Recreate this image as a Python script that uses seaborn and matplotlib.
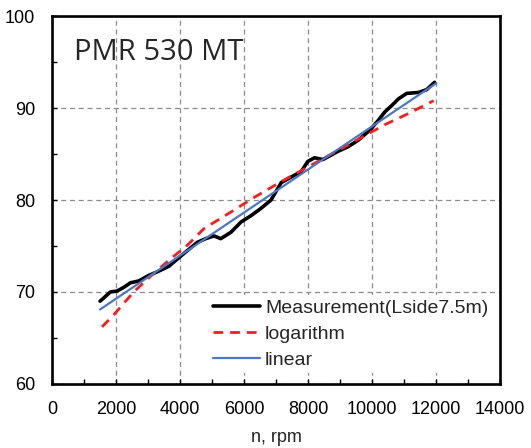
import numpy as np
import pandas as pd
import matplotlib
matplotlib.use("Agg")
import matplotlib.pyplot as plt
import seaborn as sns
from matplotlib.ticker import MultipleLocator

meas_rpm = [1500, 1600, 1820, 2030, 2240, 2450, 2710, 3020, 3290, 3650,
            4020, 4330, 4540, 4800, 5060, 5270, 5590, 5900, 6215, 6530,
            6840, 7160, 7470, 7785, 7990, 8200, 8460, 8670, 8935, 9250,
            9560, 9930, 10200, 10400, 10620, 10820, 11080, 11450, 11700, 11950]
meas_db = [69.0, 69.3, 70.0, 70.1, 70.5, 71.0, 71.2, 71.8, 72.2, 72.8,
           73.9, 74.8, 75.4, 75.8, 76.1, 75.8, 76.5, 77.6, 78.3, 79.1,
           80.0, 81.9, 82.5, 83.1, 84.2, 84.6, 84.4, 84.8, 85.3, 85.8,
           86.5, 87.6, 88.7, 89.6, 90.3, 91.0, 91.6, 91.7, 92.0, 92.8]

# logarithmic fit
log_rpm = [1560, 1925, 2550, 3075, 3600, 4230, 4750, 5590, 6320, 7160,
           7575, 8100, 8620, 9250, 10400, 11130, 11920]
log_db = [66.2, 67.5, 70.0, 71.7, 73.3, 75.1, 76.9, 78.7, 80.3, 82.0,
          82.8, 83.8, 84.8, 86.0, 88.2, 89.4, 90.8]

# linear fit
lin_rpm = [1500, 12000]
lin_db = [68.1, 92.7]

sns.set_style("white")
plt.rcParams["font.family"] = ["Liberation Sans", "DejaVu Sans"]

fig = plt.figure(figsize=(5.31, 4.48), dpi=100)
ax = fig.add_axes([0.098, 0.143, 0.844, 0.821])

sns.lineplot(x=meas_rpm, y=meas_db, ax=ax, color="black", linewidth=2.6,
             label="Measurement(Lside7.5m)", sort=False, zorder=3)
sns.lineplot(x=log_rpm, y=log_db, ax=ax, color="#ff1a1a", linewidth=2.0,
             dashes=False, label="logarithm", sort=False, zorder=4)
ax.lines[-1].set_dashes((3.5, 2.5))
sns.lineplot(x=lin_rpm, y=lin_db, ax=ax, color="#4a78c8", linewidth=1.6,
             label="linear", sort=False, zorder=5)

ax.set_xlim(0, 14000)
ax.set_ylim(60, 100)
ax.xaxis.set_major_locator(MultipleLocator(2000))
ax.xaxis.set_minor_locator(MultipleLocator(1000))
ax.yaxis.set_major_locator(MultipleLocator(10))
ax.yaxis.set_minor_locator(MultipleLocator(5))

ax.grid(True, which="major", color="#8c8c8c", linestyle=(0, (4, 3)), linewidth=0.9)
ax.set_axisbelow(True)

for s in ax.spines.values():
    s.set_color("black")
    s.set_linewidth(1.9)

ax.tick_params(which="both", direction="in", length=3.5, width=1, color="black",
               bottom=True, left=True, top=False, right=False)
ax.tick_params(axis="y", which="major", pad=12, labelsize=13, labelcolor="black")
ax.tick_params(axis="x", which="major", pad=12, labelsize=13, labelcolor="black")

ax.set_xlabel("n, rpm", fontsize=13, labelpad=8)
ax.set_ylabel("")

ax.text(0.05, 0.90, "PMR 530 MT", transform=ax.transAxes, fontsize=21,
        family=["Open Sans", "DejaVu Sans"], va="center", ha="left")

leg = ax.legend(loc="lower right", bbox_to_anchor=(0.982, 0.03), borderaxespad=0.0,
                frameon=True, fontsize=14, handlelength=2.4, handletextpad=0.25,
                labelspacing=0.44, borderpad=0.2, fancybox=False)
leg.get_frame().set_facecolor("white")
leg.get_frame().set_edgecolor("none")
leg.get_frame().set_alpha(1)
leg.set_zorder(10)

fig.savefig("out.png", dpi=100)
